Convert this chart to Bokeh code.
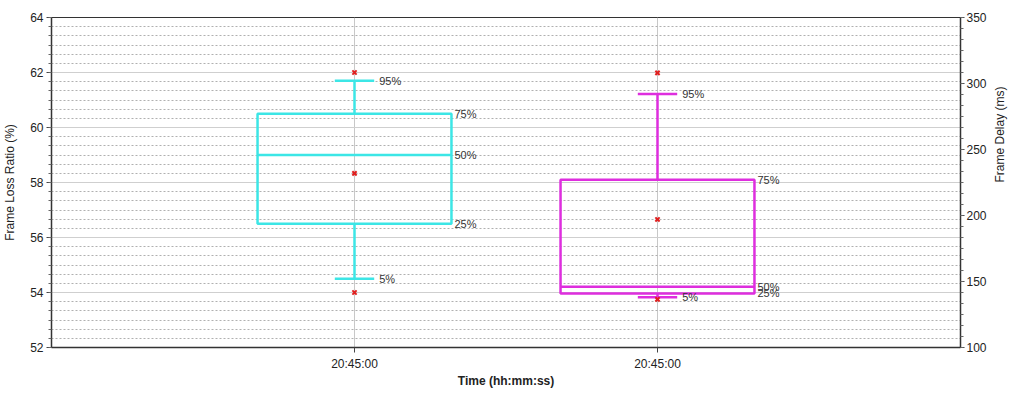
import math
from bokeh.plotting import figure
from bokeh.models import Range1d, LinearAxis, FixedTicker, SingleIntervalTicker
from bokeh.core.properties import value
from bokeh.embed import file_html
from bokeh.resources import INLINE

# ---- data ----
positions = [1, 2]
tick_labels = ["20:45:00", "20:45:00"]

loss_p5, loss_p25, loss_p50, loss_p75, loss_p95 = 54.5, 56.5, 59.0, 60.5, 61.7
loss_mean, loss_min, loss_max = 58.33, 54.0, 62.0

delay_p5, delay_p25, delay_p50, delay_p75, delay_p95 = 138.0, 141.0, 146.0, 227.0, 292.0
delay_mean, delay_min, delay_max = 197.0, 136.5, 308.0

pct_labels = ["5%", "25%", "50%", "75%", "95%"]

FONT = "Liberation Sans"
CYAN = "#3CE6E6"
MAGENTA = "#DE2EDE"
RED = "#E02020"

p = figure(width=1016, height=390, output_backend="svg", toolbar_location=None,
           x_range=Range1d(0, 3), y_range=Range1d(52, 64),
           min_border_left=39, min_border_right=30, min_border_top=17, min_border_bottom=30)
p.background_fill_color = "white"
p.border_fill_color = "white"
p.outline_line_color = "#333333"
p.outline_line_width = 1

p.extra_y_ranges = {"delay": Range1d(100, 350)}

# axes
p.xaxis.ticker = FixedTicker(ticks=positions)
p.xaxis.major_label_overrides = {pos: lab for pos, lab in zip(positions, tick_labels)}
p.xaxis.axis_label = "Time (hh:mm:ss)"

p.yaxis.ticker = SingleIntervalTicker(interval=2, num_minor_ticks=6)
p.yaxis.axis_label = "Frame Loss Ratio (%)"

right = LinearAxis(y_range_name="delay", axis_label="Frame Delay (ms)",
                   ticker=SingleIntervalTicker(interval=50, num_minor_ticks=6))
p.add_layout(right, "right")

for ax in [p.xaxis[0], p.yaxis[0], right]:
    ax.axis_line_color = "#333333"
    ax.axis_line_width = 1.5
    ax.major_tick_line_color = "#444444"
    ax.minor_tick_line_color = "#666666"
    ax.major_tick_out = 5
    ax.major_tick_in = 0
    ax.minor_tick_out = 3
    ax.minor_tick_in = 0
    ax.major_label_text_font = FONT
    ax.major_label_text_font_size = "12px"
    ax.major_label_text_color = "#222222"
    ax.axis_label_text_font = FONT
    ax.axis_label_text_font_size = "12px"
    ax.axis_label_text_color = "#222222"
    ax.major_label_standoff = 3
    ax.axis_label_standoff = 0
    ax.axis_label_text_font_style = "normal"
p.xaxis.minor_tick_line_color = None
p.xaxis.major_label_standoff = 4
p.xaxis.axis_label_text_font_style = "bold"
p.yaxis.axis_label_standoff = 10
right.major_tick_out = 4
right.major_label_standoff = 2
if "axis_label_orientation" in right.properties():
    right.axis_label_orientation = math.pi / 2

# grid
p.xgrid.ticker = FixedTicker(ticks=positions)
p.xgrid.grid_line_color = "#c8c8c8"
p.ygrid.grid_line_color = "#cfcfcf"
p.ygrid.grid_line_width = 1
p.ygrid.minor_grid_line_color = "#b0b0b0"
p.ygrid.minor_grid_line_dash = "2 2"
p.ygrid.minor_grid_line_width = 1

BOX_HALF = 0.32
CAP_HALF = 0.065

def draw_box(x, p5, p25, p50, p75, p95, mean, mn, mx, color, yr):
    kw = {} if yr is None else {"y_range_name": yr}
    p.quad(left=[x - BOX_HALF], right=[x + BOX_HALF], bottom=[p25], top=[p75],
           fill_alpha=0, line_color=color, line_width=2.5, **kw)
    p.segment(x0=[x - BOX_HALF], x1=[x + BOX_HALF], y0=[p50], y1=[p50],
              line_color=color, line_width=2.5, **kw)
    p.segment(x0=[x, x], x1=[x, x], y0=[p75, p25], y1=[p95, p5],
              line_color=color, line_width=2.5, **kw)
    p.segment(x0=[x - CAP_HALF] * 2, x1=[x + CAP_HALF] * 2, y0=[p95, p5], y1=[p95, p5],
              line_color=color, line_width=2.5, **kw)
    p.scatter(x=[x, x, x], y=[mean, mn, mx], marker="x", size=6,
              line_color=RED, line_width=2, **kw)
    # labels
    p.text(x=[x + CAP_HALF, x + CAP_HALF], y=[p95, p5], text=[pct_labels[4], pct_labels[0]],
           x_offset=5, text_baseline="middle", text_font=value(FONT),
           text_font_size="11px", text_color="#333333", **kw)
    p.text(x=[x + BOX_HALF] * 3, y=[p75, p50, p25],
           text=[pct_labels[3], pct_labels[2], pct_labels[1]],
           x_offset=3, text_baseline="middle", text_font=value(FONT),
           text_font_size="11px", text_color="#333333", **kw)

draw_box(positions[0], loss_p5, loss_p25, loss_p50, loss_p75, loss_p95,
         loss_mean, loss_min, loss_max, CYAN, None)
draw_box(positions[1], delay_p5, delay_p25, delay_p50, delay_p75, delay_p95,
         delay_mean, delay_min, delay_max, MAGENTA, "delay")

open("out.html", "w").write(file_html(p, INLINE))
